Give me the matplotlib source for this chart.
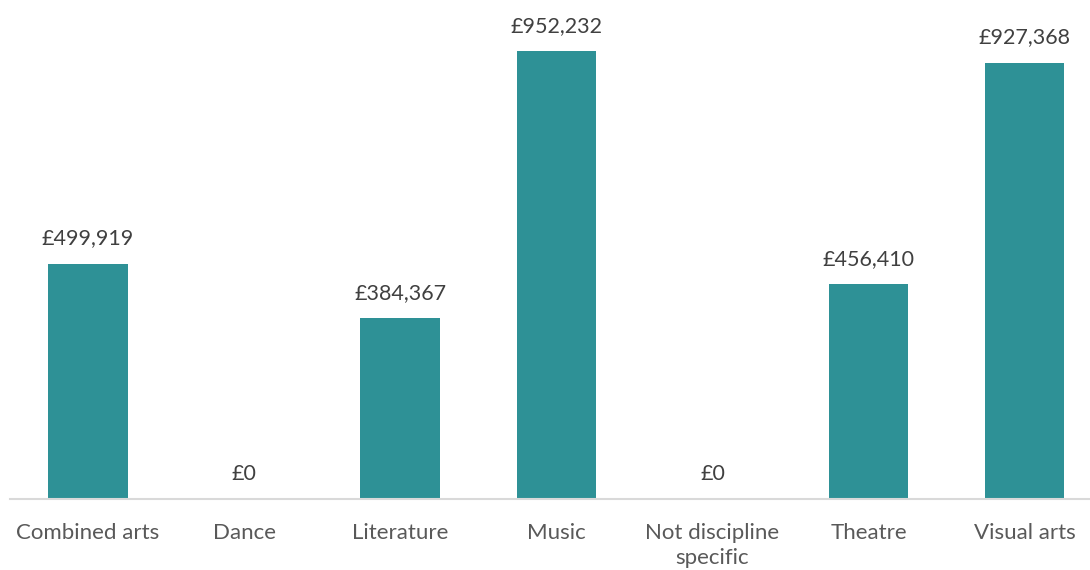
import matplotlib.pyplot as plt
import numpy as np

categories = ['Combined arts', 'Dance', 'Literature', 'Music',
              'Not discipline\nspecific', 'Theatre', 'Visual arts']
amounts = [499919, 0, 384367, 952232, 0, 456410, 927368]

bar_color = '#2E9196'
text_color = '#404040'
tick_color = '#595959'

plt.rcParams['font.family'] = ['Lato', 'DejaVu Sans']

fig = plt.figure(figsize=(10.9, 5.7), dpi=100)
ax = fig.add_axes([10 / 1090, 71 / 570, 1080 / 1090, 499 / 570])

x = np.arange(len(categories))
ax.bar(x, amounts, width=0.51, color=bar_color)

for xi, v in zip(x, amounts):
    ax.annotate('£{:,}'.format(v), (xi, v), xytext=(0, 11),
                textcoords='offset points', ha='center', va='bottom',
                fontsize=15.5, color=text_color)

ax.set_xlim(-0.5, -0.5 + 1080 / 156.1)
ax.set_ylim(0, 1.0607e6)
ax.set_xticks(x)
ax.set_xticklabels(categories, fontsize=16, color=tick_color, linespacing=1.35)
ax.tick_params(axis='x', length=0, pad=17)
ax.set_yticks([])

for s in ['top', 'right', 'left']:
    ax.spines[s].set_visible(False)
ax.spines['bottom'].set_color('#D9D9D9')
ax.spines['bottom'].set_linewidth(1.5)

plt.savefig('out.png')
